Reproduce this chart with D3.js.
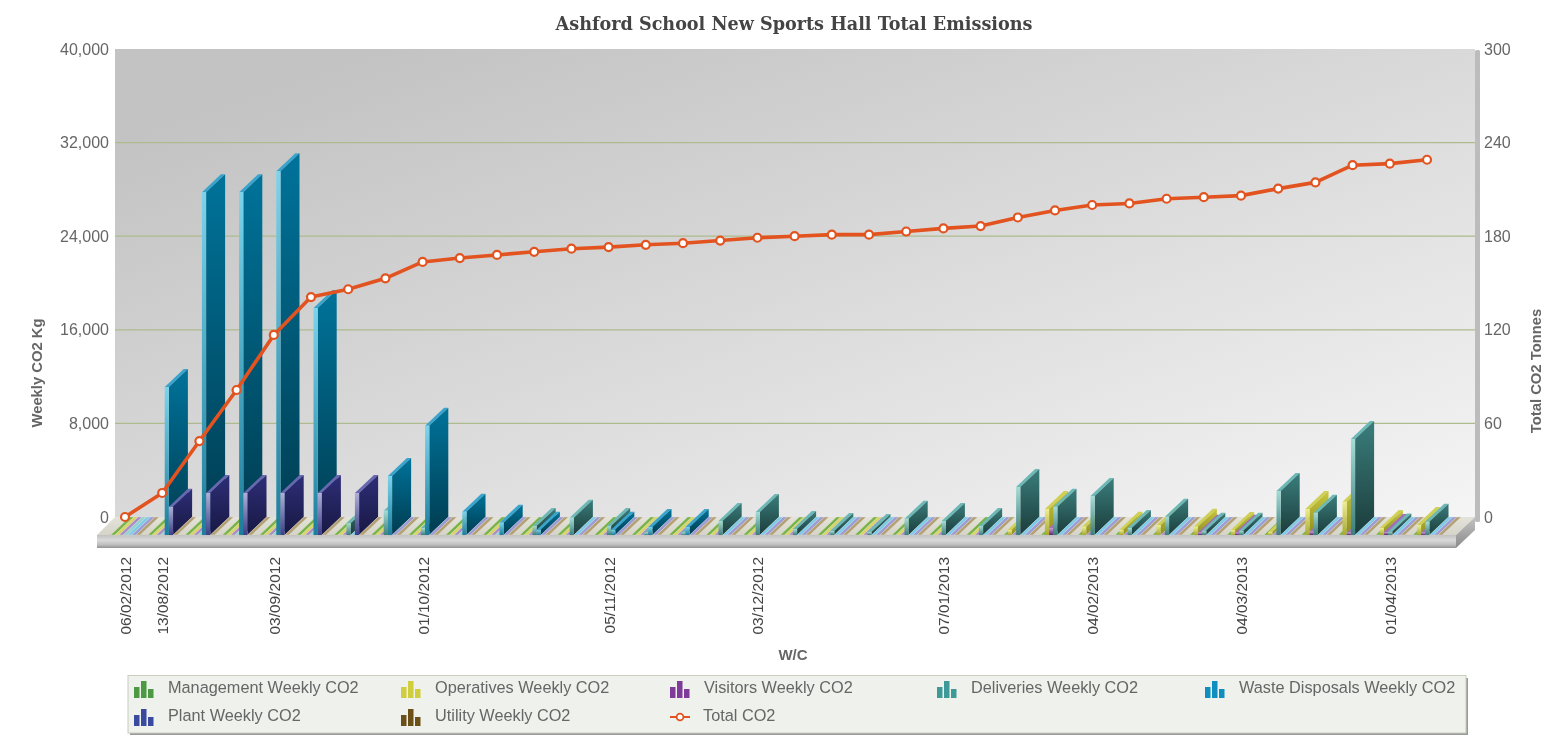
<!DOCTYPE html>
<html>
<head>
<meta charset="utf-8">
<script src="https://cdn.jsdelivr.net/npm/d3@7"></script>
<style>
html, body { margin: 0; padding: 0; background: #fff; overflow: hidden; }
svg { display: block; filter: blur(0.55px); font-family: "Liberation Sans", Arial, sans-serif; }
</style>
</head>
<body>
<svg width="1564" height="736"></svg>
<script>
const weeks = ["06/02/2012","13/08/2012","20/08/2012","27/08/2012","03/09/2012","10/09/2012","17/09/2012","24/09/2012","01/10/2012",
  "08/10/2012","15/10/2012","22/10/2012","29/10/2012","05/11/2012","12/11/2012","19/11/2012","26/11/2012","03/12/2012",
  "10/12/2012","17/12/2012","24/12/2012","31/12/2012","07/01/2013","14/01/2013","21/01/2013","28/01/2013","04/02/2013",
  "11/02/2013","18/02/2013","25/02/2013","04/03/2013","11/03/2013","18/03/2013","25/03/2013","01/04/2013","08/04/2013"];
const tickLabels = ["06/02/2012","13/08/2012","03/09/2012","01/10/2012","05/11/2012","03/12/2012","07/01/2013","04/02/2013","04/03/2013","01/04/2013"];
const leftTicks = [0, 8000, 16000, 24000, 32000, 40000];
const rightTicks = [0, 60, 120, 180, 240, 300];

// Weekly values (one per week)
const management = [0,0,0,0,0,0,0,0,0,0,0,0,0,0,0,0,0,0,0,0,0,0,0,0,0,0,0,0,0,0,0,0,0,0,0,0];
const operatives = [0,0,0,0,0,0,0,0,0,0,0,0,0,0,0,0,0,0,0,0,0,0,0,0,430,2220,710,450,850,710,430,260,2220,2850,600,850];
const visitors   = [0,0,0,0,0,0,0,0,0,0,0,0,0,0,0,0,0,0,0,0,0,0,0,0,0,600,0,0,0,200,200,0,300,200,250,200];
const deliveries = [0,0,0,0,0,0,1000,2080,600,0,0,770,1480,770,200,200,1200,1970,510,340,260,1390,1200,770,4100,2420,3330,600,1560,370,370,3760,1900,8200,300,1140];
const waste      = [0,12650,29300,29300,31100,19400,0,5040,9340,1990,1050,450,0,450,680,680,0,0,0,0,0,0,0,0,0,0,0,0,0,0,0,0,0,0,0,0];
const plant      = [0,2420,3590,3590,3590,3590,3590,0,0,0,0,0,0,0,0,0,0,0,0,0,0,0,0,0,0,0,0,0,0,0,0,0,0,0,0,0];
const utility    = [0,0,0,0,0,0,0,0,0,0,0,0,0,0,0,0,0,0,0,0,0,0,0,0,0,0,0,0,0,0,0,0,0,0,0,0];
const totalCO2   = [0,15.4,48.7,81.4,116.7,141,146,153,163.5,166,168,170,172,173,174.5,175.5,177.2,179,180,181,181,183,185,186.5,192,196.5,200,201,204,205,206,210.5,214.5,225.5,226.5,229];

const seriesNames = ["Management Weekly CO2","Operatives Weekly CO2","Visitors Weekly CO2","Deliveries Weekly CO2","Waste Disposals Weekly CO2","Plant Weekly CO2","Utility Weekly CO2"];
const seriesValues = [management, operatives, visitors, deliveries, waste, plant, utility];
// side top, side bottom, front top, front bottom, top face, floor stripe, legend
const seriesColors = [
  ["#4f9a3c","#2a5c20","#9ad884","#3f7f30","#6fb04a","#78b348","#4c9a44"],
  ["#c9c83e","#8f8e22","#eeee90","#a8a830","#d0cf55","#d6d566","#d0ce3c"],
  ["#7d3391","#4a1c58","#cba0d6","#5c2a70","#a070b8","#ac8cc6","#7f3a9a"],
  ["#3a7e7c","#1b3c3b","#a6dcd6","#3d7f7c","#6cb8b6","#94d2d2","#3e9a98"],
  ["#00739a","#003c50","#7cd4ec","#1c7e9c","#3aa4cc","#7ccbe8","#0f8fbf"],
  ["#2e2e78","#181844","#b0b0d8","#3f3f88","#6868b0","#9c9bd6","#3a4a9e"],
  ["#6e5220","#3e2e10","#b8a070","#5c4518","#a08850","#b3a074","#6b5018"]
];
const lineColor = "#e2531f";

const svg = d3.select("svg");
const defs = svg.append("defs");

// Plot area
const wallLeft = 115, wallRight = 1475, wallTop = 49, wallBottom = 517;
const floorLeft = 97, floorRight = 1456;
const depthX = 19, depthY = 18;

const yLeft = d3.scaleLinear().domain([0, 40000]).range([wallBottom, wallTop]);
const yRight = d3.scaleLinear().domain([0, 300]).range([wallBottom, wallTop]);
const xWeek = d3.scalePoint().domain(weeks).range([125, 1427]);
const xSlot = d3.scaleBand().domain(seriesNames).range([-14.3, 15.1]);

function gradient(id, x2, y2, stops) {
  const g = defs.append("linearGradient").attr("id", id)
    .attr("x1", 0).attr("y1", 0).attr("x2", x2).attr("y2", y2);
  stops.forEach(s => g.append("stop").attr("offset", s[0]).attr("stop-color", s[1]));
}
gradient("wallFill", 1, 1, [[0.1, "#c3c3c3"], [1, "#f5f5f5"]]);
gradient("railFill", 0, 1, [[0, "#c0c0c0"], [0.4, "#dadada"], [0.75, "#bebebe"], [1, "#929292"]]);
gradient("railSide", 0, 1, [[0, "#c4c4c4"], [1, "#8a8a8a"]]);
gradient("floorFill", 0, 1, [[0, "#e4e3da"], [1, "#d6d4c8"]]);
seriesColors.forEach((c, i) => {
  gradient("side" + i, 0, 1, [[0, c[0]], [1, c[1]]]);
  gradient("front" + i, 0, 1, [[0, c[2]], [1, c[3]]]);
});

// Back wall and its right edge
svg.append("rect").attr("x", wallRight).attr("y", wallTop + 1).attr("width", 5).attr("height", wallBottom - wallTop + 4).attr("rx", 1.5).attr("fill", "#bcbcbc");
svg.append("rect").attr("x", wallLeft).attr("y", wallTop).attr("width", wallRight - wallLeft).attr("height", wallBottom - wallTop + 2).attr("fill", "url(#wallFill)");

// Axes, left one carries the gridlines
const leftAxis = svg.append("g").attr("transform", "translate(" + wallLeft + ",0)")
  .call(d3.axisLeft(yLeft).tickValues(leftTicks).tickFormat(d3.format(",")).tickSize(0).tickPadding(6));
const rightAxis = svg.append("g").attr("transform", "translate(1480,0)")
  .call(d3.axisRight(yRight).tickValues(rightTicks).tickSize(0).tickPadding(4));
[leftAxis, rightAxis].forEach(a => {
  a.select(".domain").remove();
  a.selectAll("text").attr("fill", "#666").attr("font-size", 16).attr("font-family", "Liberation Sans");
});
svg.selectAll("line.grid").data(leftTicks.filter(d => d > 0 && d < 40000)).enter().append("line")
  .attr("class", "grid")
  .attr("x1", wallLeft).attr("x2", wallRight)
  .attr("y1", d => yLeft(d)).attr("y2", d => yLeft(d))
  .attr("stroke", "#aebb8e").attr("stroke-width", 1.2);

// Floor and front rail
svg.append("path").attr("fill", "url(#floorFill)")
  .attr("d", d3.line()([[floorLeft, wallBottom + depthY], [wallLeft, wallBottom], [wallRight, wallBottom], [floorRight, wallBottom + depthY]]));
svg.append("rect").attr("x", floorLeft).attr("y", wallBottom + depthY).attr("width", floorRight - floorLeft).attr("height", 13).attr("fill", "url(#railFill)");
svg.append("path").attr("fill", "url(#railSide)")
  .attr("d", d3.line()([[floorRight, wallBottom + depthY], [wallRight, wallBottom], [wallRight, wallBottom + 13], [floorRight, wallBottom + depthY + 13]]));

// Thin 3D slats, left to right so the later ones overlap the earlier ones
const slats = [];
weeks.forEach((w, i) => {
  seriesNames.forEach((s, k) => slats.push({ week: w, series: s, k: k, value: seriesValues[k][i] }));
});
const slatG = svg.append("g").selectAll("g").data(slats).enter().append("g");

function slatPoints(d) {
  const x0 = xWeek(d.week) + xSlot(d.series);
  const x1 = x0 + xSlot.bandwidth();
  const yb = yLeft(0) + depthY;
  const yt = yLeft(d.value) + depthY;
  return { x0, x1, yb, yt };
}
const pathOf = pts => d3.line()(pts) + "Z";

// top face (also the coloured stripe on the floor when the value is zero)
slatG.append("path")
  .attr("fill", d => d.value > 0 ? seriesColors[d.k][4] : seriesColors[d.k][5])
  .attr("stroke", d => d.value > 0 ? "none" : "#e6e5dc")
  .attr("stroke-width", 0.35)
  .attr("d", d => {
    const p = slatPoints(d);
    return pathOf([[p.x0, p.yt], [p.x1, p.yt], [p.x1 + depthX, p.yt - depthY], [p.x0 + depthX, p.yt - depthY]]);
  });
// side face
slatG.filter(d => d.value > 0).append("path")
  .attr("fill", d => "url(#side" + d.k + ")")
  .attr("d", d => {
    const p = slatPoints(d);
    return pathOf([[p.x1, p.yt], [p.x1 + depthX, p.yt - depthY], [p.x1 + depthX, p.yb - depthY], [p.x1, p.yb]]);
  });
// front face
slatG.filter(d => d.value > 0).append("rect")
  .attr("fill", d => "url(#front" + d.k + ")")
  .attr("x", d => slatPoints(d).x0)
  .attr("y", d => slatPoints(d).yt)
  .attr("width", xSlot.bandwidth())
  .attr("height", d => yLeft(0) - yLeft(d.value));

// Total CO2 line
const totalLine = d3.line().x((d, i) => xWeek(weeks[i])).y(d => yRight(d));
svg.append("path").datum(totalCO2)
  .attr("fill", "none").attr("stroke", lineColor).attr("stroke-width", 3.6).attr("stroke-linejoin", "round")
  .attr("d", totalLine);
svg.selectAll("circle.total").data(totalCO2).enter().append("circle")
  .attr("class", "total")
  .attr("cx", (d, i) => xWeek(weeks[i]))
  .attr("cy", d => yRight(d))
  .attr("r", 4)
  .attr("fill", "#fff").attr("stroke", lineColor).attr("stroke-width", 2.2);

// Date labels
const bottomAxis = svg.append("g").attr("transform", "translate(0,552)")
  .call(d3.axisBottom(xWeek).tickValues(tickLabels).tickSize(0));
bottomAxis.select(".domain").remove();
bottomAxis.selectAll("text")
  .attr("transform", "rotate(-90)")
  .attr("x", -5).attr("y", 0).attr("dy", "0.36em")
  .attr("text-anchor", "end")
  .attr("fill", "#444").attr("font-size", 15.5).attr("font-family", "Liberation Sans");

// Titles
svg.append("text").attr("x", 794).attr("y", 30).attr("text-anchor", "middle")
  .attr("font-family", "DejaVu Serif").attr("font-weight", "bold").attr("font-size", 17.6).attr("fill", "#444")
  .text("Ashford School New Sports Hall Total Emissions");
svg.append("text").attr("transform", "translate(42,373) rotate(-90)").attr("text-anchor", "middle")
  .attr("font-weight", "bold").attr("font-size", 14.8).attr("fill", "#666").text("Weekly CO2 Kg");
svg.append("text").attr("transform", "translate(1541,371) rotate(-90)").attr("text-anchor", "middle")
  .attr("font-weight", "bold").attr("font-size", 14.8).attr("fill", "#666").text("Total CO2 Tonnes");
svg.append("text").attr("x", 793).attr("y", 660).attr("text-anchor", "middle")
  .attr("font-weight", "bold").attr("font-size", 15).attr("fill", "#666").text("W/C");

// Legend
svg.append("rect").attr("x", 130).attr("y", 678).attr("width", 1338).attr("height", 57).attr("fill", "#9a9a9a");
svg.append("rect").attr("x", 128).attr("y", 675.5).attr("width", 1338).attr("height", 57.5)
  .attr("fill", "#eff1ec").attr("stroke", "#c9cebd").attr("stroke-width", 1);

const legendOrder = [0, 1, 2, 3, 4, 5, 6];
const legendX = [134, 401, 670, 937, 1205, 134, 401];
const legendY = [688, 688, 688, 688, 688, 716, 716];
const iconBars = [[0, 11], [7, 17], [14, 9]];
legendOrder.forEach((k, i) => {
  const g = svg.append("g").attr("transform", "translate(" + legendX[i] + "," + legendY[i] + ")");
  iconBars.forEach(b => {
    g.append("rect").attr("x", b[0]).attr("y", 10 - b[1]).attr("width", 5.5).attr("height", b[1])
      .attr("fill", seriesColors[k][6]);
  });
  g.append("text").attr("x", 34).attr("y", 5).attr("font-size", 16.3).attr("fill", "#666").text(seriesNames[k]);
});
const totalG = svg.append("g").attr("transform", "translate(670,716)");
totalG.append("line").attr("x1", 0).attr("x2", 20).attr("y1", 1).attr("y2", 1).attr("stroke", lineColor).attr("stroke-width", 2);
totalG.append("circle").attr("cx", 10).attr("cy", 1).attr("r", 3.4).attr("fill", "#fff").attr("stroke", lineColor).attr("stroke-width", 1.8);
totalG.append("text").attr("x", 33).attr("y", 5).attr("font-size", 16.3).attr("fill", "#666").text("Total CO2");
</script>
</body>
</html>
